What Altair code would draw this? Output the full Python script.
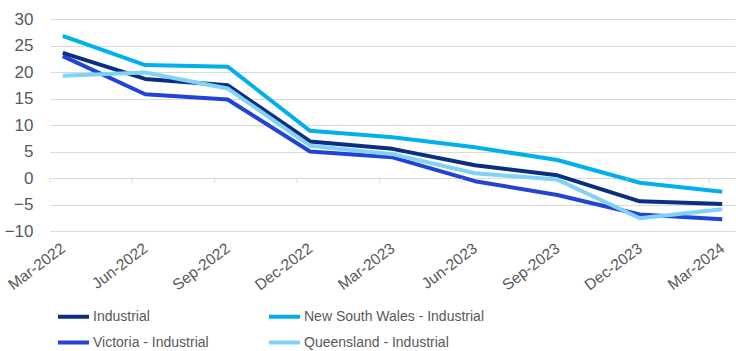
import altair as alt
import pandas as pd

quarters = ["Mar-2022", "Jun-2022", "Sep-2022", "Dec-2022", "Mar-2023",
            "Jun-2023", "Sep-2023", "Dec-2023", "Mar-2024"]

series_names = ["Industrial", "New South Wales - Industrial",
                "Victoria - Industrial", "Queensland - Industrial"]

industrial = [23.6, 18.7, 17.5, 6.9, 5.5, 2.4, 0.5, -4.4, -4.9]
nsw = [26.8, 21.3, 21.0, 8.9, 7.7, 5.8, 3.4, -0.9, -2.6]
victoria = [23.0, 15.8, 14.8, 5.0, 3.9, -0.6, -3.2, -6.9, -7.8]
queensland = [19.3, 19.9, 16.9, 6.1, 4.5, 0.9, -0.3, -7.6, -5.9]

colors = ["#0a2f80", "#00b0ec", "#2143d6", "#80d2f7"]

rows = []
for name, values in zip(series_names, [industrial, nsw, victoria, queensland]):
    for q, v in zip(quarters, values):
        rows.append({"quarter": q, "series": name, "value": v,
                     "order": series_names.index(name)})
df = pd.DataFrame(rows)

x_scale = alt.Scale(type="point", domain=quarters, padding=0.155)
y_scale = alt.Scale(domain=[-10, 30], nice=False)

x_axis = alt.Axis(title=None, labelAngle=-37, labelAlign="right",
                  labelBaseline="middle", domain=False, ticks=False,
                  grid=False, labelFontSize=15.5, labelColor="#595959",
                  labelPadding=15, labelFont="Liberation Sans")
y_axis = alt.Axis(title=None, values=list(range(-10, 31, 5)),
                  labelOverlap=False, domain=False, ticks=False,
                  gridColor="#d9d9d9", gridWidth=1.2,
                  labelFontSize=17, labelColor="#595959",
                  labelPadding=17, labelFont="Liberation Sans")

lines = alt.Chart(df).mark_line(strokeWidth=4, strokeJoin="round").encode(
    x=alt.X("quarter:N", scale=x_scale, sort=quarters, axis=x_axis),
    y=alt.Y("value:Q", scale=y_scale, axis=y_axis),
    color=alt.Color("series:N",
                    scale=alt.Scale(domain=series_names, range=colors),
                    legend=alt.Legend(title=None, orient="none", legendX=6,
                                      legendY=280, columns=2,
                                      direction="horizontal",
                                      columnPadding=52, rowPadding=-5,
                                      symbolType="stroke", symbolSize=961,
                                      symbolStrokeWidth=4, labelFontSize=14,
                                      labelColor="#595959", labelOffset=2,
                                      labelFont="Liberation Sans",
                                      labelLimit=300, padding=0)),
    detail="order:O",
)

# small tick marks hanging off the zero line between categories
tick_df = pd.DataFrame({"quarter": quarters, "zero": [0] * len(quarters)})
ticks = alt.Chart(tick_df).mark_tick(
    orient="vertical", color="#d0d0d0", thickness=1.2, size=5
).encode(
    x=alt.X("quarter:N", scale=x_scale, sort=quarters, axis=x_axis),
    y=alt.Y("zero:Q", scale=y_scale, axis=y_axis),
    xOffset=alt.value(-13),
    yOffset=alt.value(2.5),
)

chart = alt.layer(lines, ticks).properties(
    width=685, height=212,
    autosize=alt.AutoSizeParams(type="none"),
    padding={"left": 50, "top": 19, "right": 1, "bottom": 120},
).configure_view(stroke=None)

chart.save("out.html", embed_options={"renderer": "svg", "actions": False})
